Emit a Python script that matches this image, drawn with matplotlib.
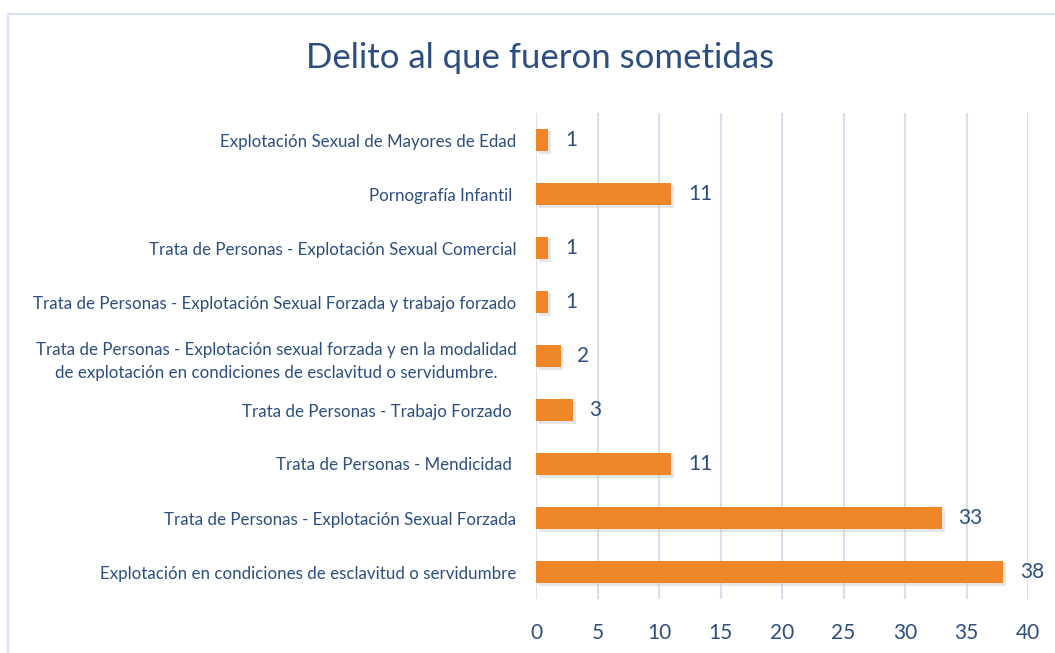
import matplotlib.pyplot as plt
import matplotlib.patheffects as pe
from matplotlib.patches import Rectangle

# data, bottom to top as drawn
categorias = [
    "Explotación en condiciones de esclavitud o servidumbre",
    "Trata de Personas - Explotación Sexual Forzada",
    "Trata de Personas - Mendicidad ",
    "Trata de Personas - Trabajo Forzado ",
    "Trata de Personas - Explotación sexual forzada y en la modalidad\nde explotación en condiciones de esclavitud o servidumbre.",
    "Trata de Personas - Explotación Sexual Forzada y trabajo forzado",
    "Trata de Personas - Explotación Sexual Comercial",
    "Pornografía Infantil ",
    "Explotación Sexual de Mayores de Edad",
]
valores = [38, 33, 11, 3, 2, 1, 1, 11, 1]
ticks_x = [0, 5, 10, 15, 20, 25, 30, 35, 40]

azul = '#2C4E7E'
naranja = '#EF8729'
plt.rcParams['font.family'] = ['Lato', 'DejaVu Sans']

fig = plt.figure(figsize=(10.55, 6.53), dpi=100)
ax = fig.add_axes([536/1055, 1-599/653, (1028-536)/1055, (599-113)/653])

# marco del grafico
fig.patches.append(Rectangle((8/1055, -0.1), 1.2, 1-14/653+0.1, transform=fig.transFigure,
                             fill=False, edgecolor='#D5E2F3', lw=1.5))

pos = range(len(categorias))
bars = ax.barh(pos, valores, height=0.42, color=naranja, zorder=3)
for b in bars:
    b.set_path_effects([pe.SimplePatchShadow(offset=(2, -2), shadow_rgbFace='#C8C8C8', alpha=0.45),
                        pe.Normal()])
for i, v in enumerate(valores):
    ax.annotate(str(v), (v, i), xytext=(12, 0), textcoords='offset points',
                va='center', ha='left', fontsize=15, color=azul)

ax.set_xlim(0, 40)
ax.set_ylim(-0.5, len(categorias) - 0.5)
ax.set_xticks(ticks_x)
ax.set_yticks(list(pos))
ax.set_yticklabels(categorias, fontsize=12.2, color=azul, ha='right', multialignment='center',
                   linespacing=1.55)
ax.tick_params(axis='x', labelsize=15, colors=azul, length=0, pad=17)
ax.tick_params(axis='y', length=0, pad=14)
ax.grid(axis='x', color='#D6E1F0', lw=1.5, zorder=0)
for s in ax.spines.values():
    s.set_visible(False)

fig.text(540/1055, 1-58/653, 'Delito al que fueron sometidas', ha='center', va='center',
         fontsize=25, color=azul)

fig.savefig('out.png', dpi=100)
